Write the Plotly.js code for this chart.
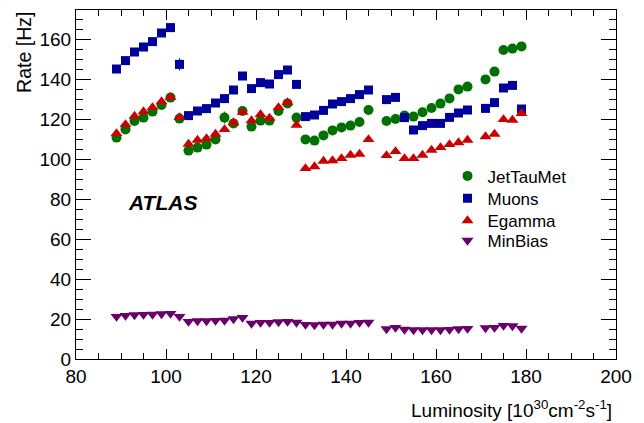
<!DOCTYPE html>
<html>
<head>
<meta charset="utf-8">
<script src="https://cdn.plot.ly/plotly-3.0.1.min.js"></script>
<style>html,body{margin:0;padding:0;background:#fff}#chart{width:644px;height:423px}</style>
</head>
<body>
<div id="chart"></div>
<script>
const lumi = [89,91,93,95,97,99,101,103,105,107,109,111,113,115,117,119,121,123,125,127,129,131,133,135,137,139,141,143,145,149,151,153,155,157,159,161,163,165,167,171,173,175,177,179];
const jetTauMet = [110.7,114.8,119,120.7,123.7,127,130.7,120.2,104.2,105.7,107.2,109.8,120.7,117.8,124,116.2,119.2,119.2,124,127.8,120.7,109.8,109.2,111.8,114.3,115.8,116.7,118.5,124.5,119,120,121.7,121.2,123.4,125.5,127.7,130.3,134.8,136.2,139.8,143.7,154.5,155.2,156.3];
const jetTauMetErr = [0,0,0,0,0,0,0,0,0,0,0,0,3,0,0,0,0,0,0,0,0,0,0,0,0,0,0,0,0,0,0,0,0,0,0,0,0,0,0,0,0,0,0,0];
const muons = [145,149.2,153.5,156,158.7,163,165.7,147.3,121.7,124,125.2,128,130.2,134.5,141.5,135.2,138.2,137.5,142.2,144.5,137.3,121.2,122,124.3,127.5,128.7,130.2,132.2,134.5,129.7,130.8,120.7,114.5,116.7,117.8,117.8,120.8,123,124.5,125.3,128.2,135.5,136.8,125];
const muonsErr = [0,0,0,0,0,0,0,3,0,0,0,0,0,0,0,0,0,0,0,0,0,0,0,0,0,0,0,0,0,0,0,0,0,0,0,0,0,0,0,0,0,0,0,0];
const egamma = [112.8,117.3,121.5,123.7,125.8,128.7,130.8,120.8,107.5,109.5,110.3,112.5,114.8,118.2,123.5,119.2,122.3,120.5,125.8,128.2,117,95.3,96.2,99,99.2,100.3,102,102.5,109.8,101.8,103.8,100.3,100.3,102,104.5,105.8,107.3,108.2,109.5,111.2,112.5,119.8,119.5,122.8];
const minBias = [21.2,21.7,22,22.2,22.3,22.5,22.7,21.2,18.7,19,19,19.2,19.3,20,20.7,17.8,18.2,18.2,18.5,18.7,18.3,17.2,17,17.3,17.3,17.8,17.8,18.2,18.3,15,15.7,14.8,14.5,14.5,14.5,14.5,14.7,15,15.2,15.5,15.7,16.7,16.5,15.3];
const seriesNames = ["JetTauMet","Muons","Egamma","MinBias"];
const xTitle = "Luminosity [10<sup>30</sup>cm<sup>-2</sup>s<sup>-1</sup>]";
const yTitle = "Rate [Hz]";
const label = "ATLAS";

const FONT = "Liberation Sans, Arial, Helvetica, sans-serif";
function tr(name, y, err, symbol, color, size, legendId) {
  const t = {x: lumi, y: y, name: name, type: 'scatter', mode: 'markers', legend: legendId,
    marker: {symbol: symbol, color: color, size: size, line: {width: 0}}};
  if (err) t.error_y = {type: 'data', array: err, visible: true, width: 0, thickness: 1.2, color: color};
  return t;
}
const data = [
  tr(seriesNames[0], jetTauMet, jetTauMetErr, 'circle', '#007000', 10, 'legend'),
  tr(seriesNames[1], muons, muonsErr, 'square', '#00009a', 9, 'legend2'),
  tr(seriesNames[2], egamma, null, 'triangle-up', '#cc0000', 10.5, 'legend3'),
  tr(seriesNames[3], minBias, null, 'triangle-down', '#6a006a', 10.5, 'legend4')
];
function leg(y) {
  return {x: 0.688, y: y, xanchor: 'left', yanchor: 'top', bgcolor: 'rgba(0,0,0,0)',
    font: {family: FONT, size: 17, color: '#000'}, itemwidth: 30};
}
const axisCommon = {
  showgrid: false, zeroline: false, showline: true, linecolor: '#000', linewidth: 1,
  mirror: 'allticks', ticks: 'inside', tickcolor: '#000', tickwidth: 1,
  tickfont: {family: FONT, size: 19, color: '#000'}
};
const layout = {
  width: 644, height: 423,
  margin: {l: 76, r: 28, t: 10, b: 64},
  paper_bgcolor: '#fff', plot_bgcolor: '#fff',
  showlegend: true,
  legend: leg(0.575), legend2: leg(0.511), legend3: leg(0.447), legend4: leg(0.390),
  xaxis: Object.assign({}, axisCommon, {range: [80, 200], tick0: 80, dtick: 20, ticklen: 10,
    minor: {dtick: 5, ticks: 'inside', ticklen: 6, tickcolor: '#000', tickwidth: 1}}),
  yaxis: Object.assign({}, axisCommon, {range: [0, 174.5], tick0: 0, dtick: 20, ticklen: 15,
    minor: {dtick: 5, ticks: 'inside', ticklen: 7, tickcolor: '#000', tickwidth: 1}}),
  annotations: [
    {text: xTitle, xref: 'paper', yref: 'paper', x: 0.997, y: -0.143, xanchor: 'right', yanchor: 'middle',
      showarrow: false, font: {family: FONT, size: 19, color: '#000'}},
    {text: yTitle, xref: 'paper', yref: 'paper', x: -0.0963, y: 0.88, xanchor: 'center', yanchor: 'middle',
      textangle: -90, showarrow: false, font: {family: FONT, size: 19.5, color: '#000'}},
    {text: '<b><i>' + label + '</i></b>', xref: 'paper', yref: 'paper', x: 0.161, y: 0.449, xanchor: 'center', yanchor: 'middle',
      showarrow: false, font: {family: FONT, size: 21, color: '#000'}}
  ]
};
Plotly.newPlot('chart', data, layout, {displayModeBar: false, staticPlot: true});
</script>
</body>
</html>
